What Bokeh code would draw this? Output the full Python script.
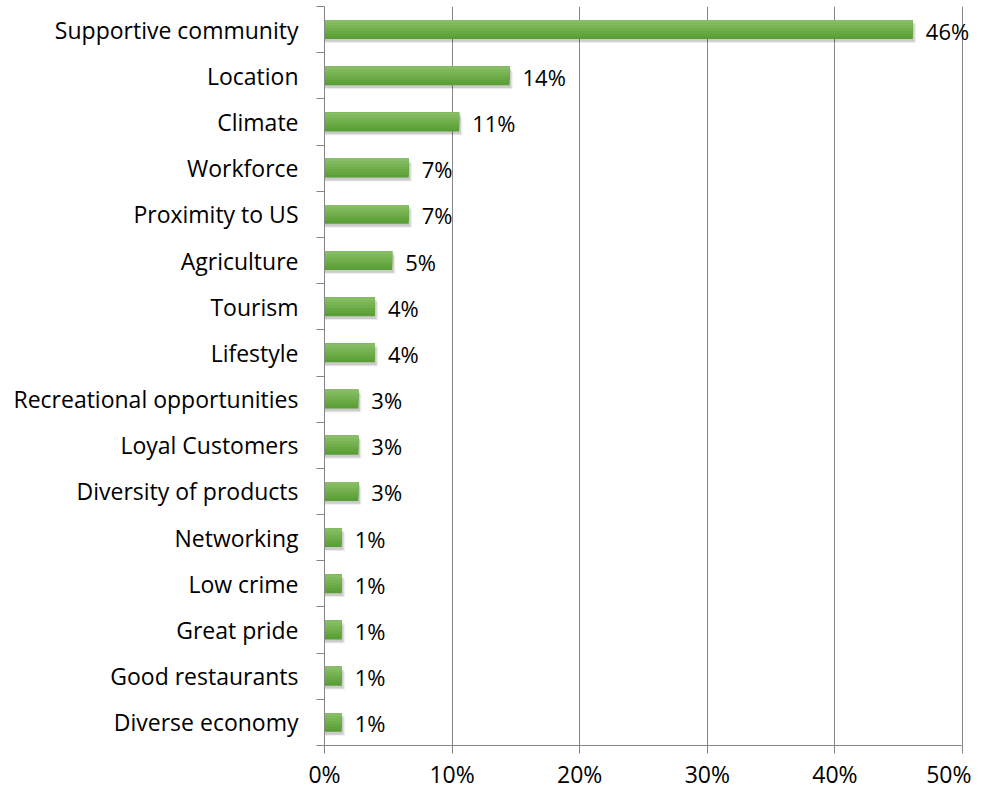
from bokeh.plotting import figure
from bokeh.models import ColumnDataSource, FixedTicker, Range1d, LabelSet
from bokeh.transform import dodge
from bokeh.core.properties import value
from bokeh.embed import file_html
from bokeh.resources import INLINE

categories = [
    "Supportive community", "Location", "Climate", "Workforce", "Proximity to US",
    "Agriculture", "Tourism", "Lifestyle", "Recreational opportunities",
    "Loyal Customers", "Diversity of products", "Networking", "Low crime",
    "Great pride", "Good restaurants", "Diverse economy",
]
values = [46.1, 14.5, 10.55, 6.6, 6.6, 5.3, 3.95, 3.95, 2.65, 2.65, 2.65,
          1.35, 1.35, 1.35, 1.35, 1.35]
value_labels = ["46%", "14%", "11%", "7%", "7%", "5%", "4%", "4%", "3%", "3%",
                "3%", "1%", "1%", "1%", "1%", "1%"]
x_ticks = [0, 10, 20, 30, 40, 50]
x_tick_labels = ["0%", "10%", "20%", "30%", "40%", "50%"]

FONT = "Open Sans"
FS = "23px"
GRAY = "#868686"

n = len(categories)
ypos = [n - 1 - i for i in range(n)]
src = ColumnDataSource(dict(cat=categories, val=values, lab=value_labels, y=ypos))

p = figure(width=971, height=792, output_backend="svg", toolbar_location=None,
           x_range=Range1d(0, 50.7), y_range=Range1d(-0.5, n - 0.5),
           min_border_left=324, min_border_right=0, min_border_top=6,
           min_border_bottom=40)
p.outline_line_color = None
p.background_fill_color = "white"
p.border_fill_color = "white"

# shadows
p.hbar(y=dodge("y", -0.09), left=0, right=dodge("val", 0.25), height=0.40,
       source=src, fill_color="black", fill_alpha=0.07, line_color=None)
p.hbar(y=dodge("y", -0.06), left=0, right=dodge("val", 0.14), height=0.41,
       source=src, fill_color="black", fill_alpha=0.14, line_color=None)

# gradient bar: nested layers anchored at the top, lighter toward the top
h = 0.41
layer_colors = ["#5a9f35", "#61a43c", "#68a943", "#70af4b", "#78b454", "#80b95d", "#87bd65"]
k = len(layer_colors)
for j, c in enumerate(layer_colors):
    frac = 1.0 - j / k
    off = h / 2 - frac * h / 2
    p.hbar(y=dodge("y", off), left=0, right="val", height=frac * h, source=src,
           fill_color=c, line_color=None)

labels = LabelSet(x="val", y="y", text="lab", source=src, x_offset=13, y_offset=-1,
                  text_baseline="middle", text_align="left", text_font=value(FONT),
                  text_font_size=value("22px"), text_color="black")
p.add_layout(labels)

# x axis
xa = p.xaxis[0]
xa.ticker = FixedTicker(ticks=x_ticks)
xa.bounds = (0, 50)
xa.major_label_overrides = {t: l for t, l in zip(x_ticks, x_tick_labels)}
xa.axis_line_color = GRAY
xa.major_tick_line_color = GRAY
xa.major_tick_out = 8
xa.major_tick_in = 0
xa.minor_tick_line_color = None
xa.major_label_text_font = FONT
xa.major_label_text_font_size = FS
xa.major_label_text_color = "black"
xa.major_label_standoff = 4

# y axis
ya = p.yaxis[0]
ya.ticker = FixedTicker(ticks=ypos, minor_ticks=[t - 0.5 for t in range(n + 1)])
ya.major_label_overrides = {y: c for y, c in zip(ypos, categories)}
ya.axis_line_color = GRAY
ya.major_tick_line_color = None
ya.major_tick_out = 0
ya.major_tick_in = 0
ya.minor_tick_line_color = GRAY
ya.minor_tick_out = 8
ya.minor_tick_in = 0
ya.major_label_text_font = FONT
ya.major_label_text_font_size = FS
ya.major_label_text_color = "black"
ya.major_label_standoff = 18

p.xgrid.ticker = FixedTicker(ticks=x_ticks)
p.xgrid.bounds = (0, 50)
p.xgrid.grid_line_color = GRAY
p.xgrid.grid_line_width = 1
p.ygrid.visible = False

open("out.html", "w").write(file_html(p, INLINE))
